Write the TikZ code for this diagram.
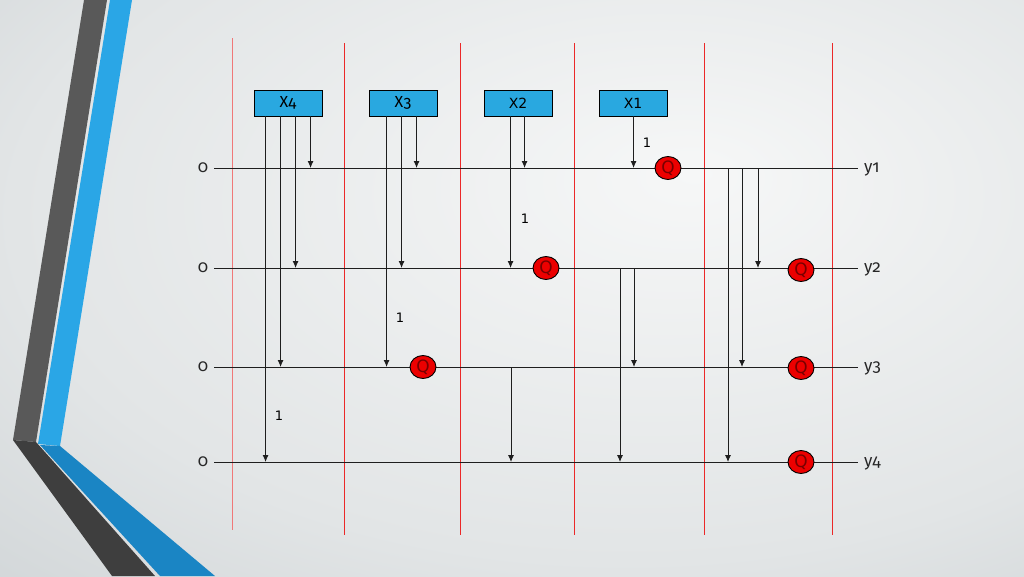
\documentclass[tikz,border=0pt]{standalone}
\usepackage{fontspec}
\setmainfont{Fira Sans}
\newfontfamily\osf{Fira Sans}[Numbers=OldStyle]
\newfontfamily\djv{DejaVu Sans}
\usetikzlibrary{arrows.meta,shapes.geometric}
\definecolor{bgin}{RGB}{246,247,247}
\definecolor{bgmid}{RGB}{226,229,230}
\definecolor{bgout}{RGB}{195,201,204}
\definecolor{stripdark}{RGB}{89,89,89}
\definecolor{stripdarklow}{RGB}{62,62,62}
\definecolor{stripblue}{RGB}{42,166,230}
\definecolor{stripbluelow}{RGB}{26,133,196}
\definecolor{boxblue}{RGB}{41,168,224}
\definecolor{gridred}{RGB}{235,40,40}
\definecolor{gridpink}{RGB}{240,120,120}
\definecolor{qred}{RGB}{236,0,0}
\definecolor{qtext}{RGB}{120,0,0}
\definecolor{wire}{RGB}{30,30,30}
\pgfdeclareradialshading{bgshade}{\pgfpoint{9bp}{10bp}}{color(0bp)=(bgin); color(30bp)=(bgmid); color(55bp)=(bgout); color(80bp)=(bgout)}
\tikzset{
  redline/.style={draw=gridred, line width=1.2pt},
  hline/.style={draw=wire, line width=1pt},
  arr/.style={draw=wire, line width=0.9pt, -{Latex[length=7pt,width=6pt]}},
  lab/.style={font=\osf\fontsize{17}{20}\selectfont, text=black!85, inner sep=0pt, outer sep=6pt, text height=8pt, text depth=0pt},
  ylab/.style={lab, anchor=west},
  xbox/.style={draw=black, line width=0.9pt, fill=boxblue, minimum width=68pt, minimum height=26pt, inner sep=0pt, font=\osf\fontsize{16}{18}\selectfont},
  xboxl/.style={xbox, font=\djv\fontsize{14}{16}\selectfont},
  one/.style={font=\djv\fontsize{13}{15}\selectfont, inner sep=0pt},
  qc/.style={ellipse, draw=black, line width=0.9pt, fill=qred, minimum width=26pt, minimum height=23pt, inner sep=0pt, font=\djv\fontsize{17}{19}\selectfont, text=qtext},
}
\begin{document}
\begin{tikzpicture}[x=1pt,y=-1pt]
\useasboundingbox (0,0) rectangle (1024,576);
\shade[shading=bgshade] (0,0) rectangle (1024,576);
% decorative stripes
\fill[stripdark] (84,0) -- (107,0) -- (36,442) -- (13,440) -- cycle;
\fill[stripblue] (110,0) -- (132,0) -- (60,446) -- (38,444) -- cycle;
\fill[stripdarklow] (13,440) -- (36,442) -- (155,576) -- (112,576) -- cycle;
\fill[stripbluelow] (40,445) -- (60,446) -- (215,576) -- (160,576) -- cycle;
% red grid lines
\draw[redline, draw=gridpink] (232.6,38) -- (232.6,530);
\draw[redline] (344.6,43) -- (344.6,535);
\draw[redline] (460.6,43) -- (460.6,535);
\draw[redline] (574.6,43) -- (574.6,535);
\draw[redline] (704.6,43) -- (704.6,535);
\draw[redline] (832.6,43) -- (832.6,535);
% line labels
\node[lab] (o1) at (203,168) {0};
\node[lab] (o2) at (203,268) {0};
\node[lab] (o3) at (203,367) {0};
\node[lab] (o4) at (203,462) {0};
\node[ylab] (y1) at (858,168) {y1};
\node[ylab] (y2) at (858,268) {y2};
\node[ylab] (y3) at (858,367) {y3};
\node[ylab] (y4) at (858,462) {y4};
\draw[hline] (o1) -- (y1);
\draw[hline] (o2) -- (y2);
\draw[hline] (o3) -- (y3);
\draw[hline] (o4) -- (y4);
% input boxes
\node[xbox] (x4) at (288,103) {X4};
\node[xbox] (x3) at (403,103) {X3};
\node[xboxl] (x2) at (518,103) {X2};
\node[xboxl] (x1) at (633,103) {X1};
% taps from boxes
\coordinate (a41) at ([xshift=12pt]x4.south west);
\coordinate (a42) at ([xshift=27pt]x4.south west);
\coordinate (a43) at ([xshift=42pt]x4.south west);
\coordinate (a44) at ([xshift=57pt]x4.south west);
\coordinate (a31) at ([xshift=18pt]x3.south west);
\coordinate (a32) at ([xshift=33pt]x3.south west);
\coordinate (a33) at ([xshift=48pt]x3.south west);
\coordinate (a21) at ([xshift=27pt]x2.south west);
\coordinate (a22) at ([xshift=41pt]x2.south west);
\coordinate (a11) at ([xshift=35pt]x1.south west);
\draw[arr] (a41) -- (a41 |- o4);
\draw[arr] (a42) -- (a42 |- o3);
\draw[arr] (a43) -- (a43 |- o2);
\draw[arr] (a44) -- (a44 |- o1);
\draw[arr] (a31) -- (a31 |- o3);
\draw[arr] (a32) -- (a32 |- o2);
\draw[arr] (a33) -- (a33 |- o1);
\draw[arr] (a21) -- (a21 |- o2);
\draw[arr] (a22) -- (a22 |- o1);
\draw[arr] (a11) -- (a11 |- o1);
% taps from lines
\coordinate (t1) at (728,168);
\coordinate (t2) at (742,168);
\coordinate (t3) at (758,168);
\coordinate (t4) at (620,268);
\coordinate (t5) at (634,268);
\coordinate (t6) at (511,367);
\draw[arr] (t1) -- (t1 |- o4);
\draw[arr] (t2) -- (t2 |- o3);
\draw[arr] (t3) -- (t3 |- o2);
\draw[arr] (t4) -- (t4 |- o4);
\draw[arr] (t5) -- (t5 |- o3);
\draw[arr] (t6) -- (t6 |- o4);
% weight labels
\node[one] (w1) at (647,143) {1};
\node[one] (w2) at (525,219) {1};
\node[one] (w3) at (400,318) {1};
\node[one] (w4) at (279,416) {1};
% Q nodes
\node[qc] (q1) at (668,168) {Q};
\node[qc] (q2) at (546,268) {Q};
\node[qc] (q3) at (423,367) {Q};
\node[qc] (q4) at (801,270) {Q};
\node[qc] (q5) at (801,368) {Q};
\node[qc] (q6) at (801,462) {Q};
\end{tikzpicture}
\end{document}
